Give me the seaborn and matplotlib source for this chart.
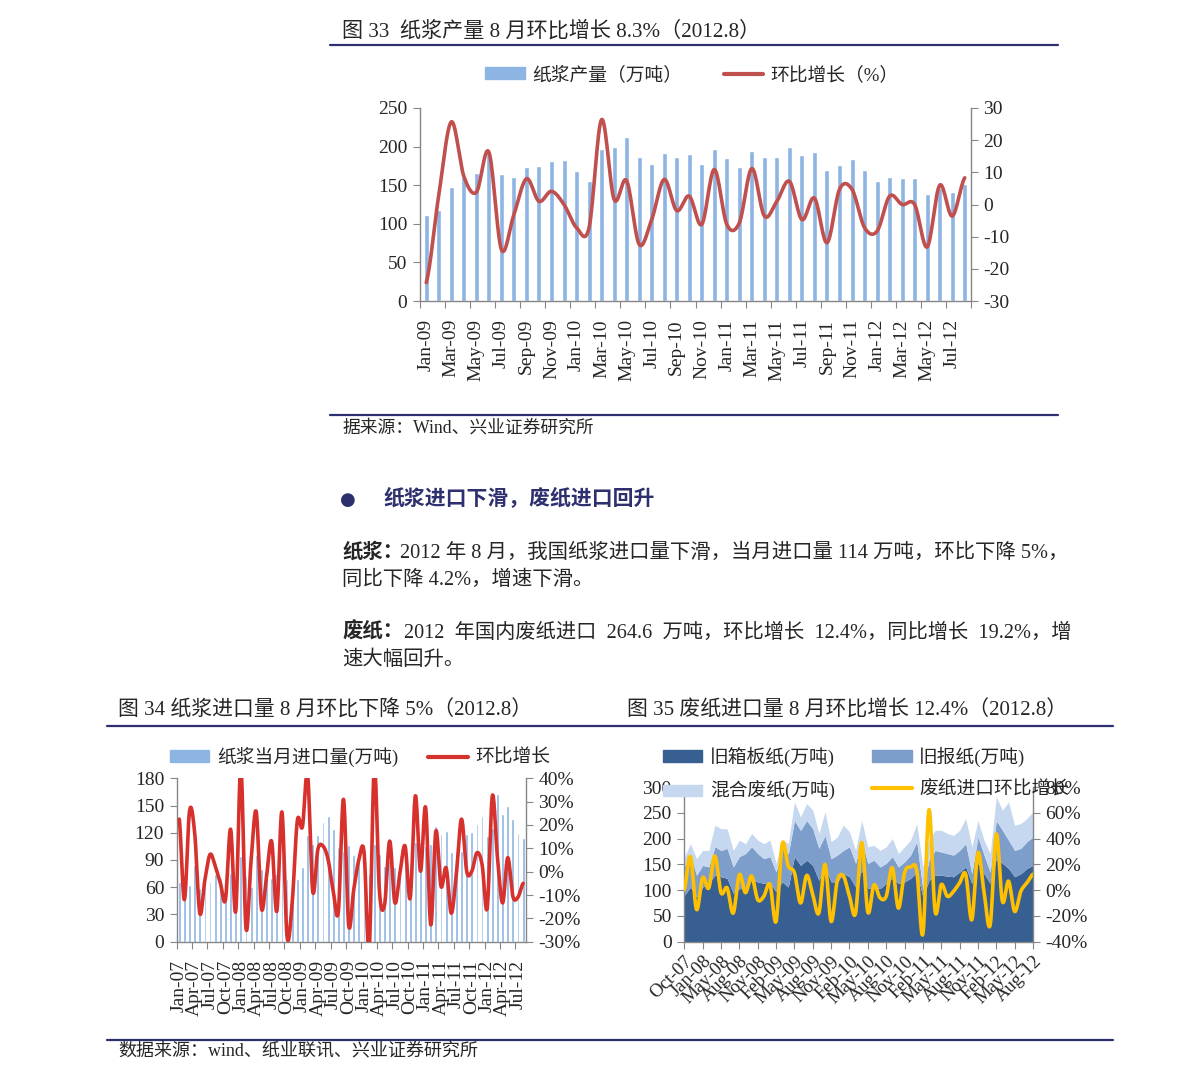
import numpy as np
import pandas as pd
import matplotlib
matplotlib.use('Agg')
import matplotlib.pyplot as plt
import seaborn as sns
from matplotlib.patches import Patch
from matplotlib.lines import Line2D

sns.set_style('white')
plt.rcParams['font.family'] = ['Liberation Serif', 'Noto Sans CJK SC']
plt.rcParams['axes.unicode_minus'] = False

W, H = 1191, 1083
NAVY = '#2d2f6e'
GRAY = '#868686'
BAR = '#8db4e2'

# ---- 图33 纸浆产量 (Jan-09 .. Aug-12)
top_months = list(pd.date_range('2009-01-01', periods=44, freq='MS').strftime('%b-%y'))
top_output = [112, 118, 148, 161, 166, 192, 165, 160, 173, 175,
              181, 182, 169, 156, 197, 200, 213, 187, 178, 192,
              186, 190, 178, 197, 185, 174, 194, 187, 187, 200,
              189, 193, 170, 176, 184, 170, 156, 160, 159, 159,
              138, 146, 141, 152]
top_mom = [-24.3, 3, 25.7, 8.8, 3.8, 16.3, -14, -3.1, 8, 1,
           4.1, 0, -7.2, -7.2, 26.4, 1.6, 7.4, -12.4, -4.7, 7.8,
           -1.9, 2.6, -6.2, 10.9, -6.2, -5.7, 11.2, -3.6, 1, 7.2,
           -4.7, 2, -11.9, 4.7, 4.7, -7.2, -8.3, 2.6, 0, 0,
           -13.2, 6, -3.6, 8.3]

# ---- 图34 纸浆进口量 (Jan-07 .. Aug-12)
pulp_months = list(pd.date_range('2007-01-01', periods=68, freq='MS').strftime('%b-%y'))
pulp_import = [66, 68, 63, 84, 59, 65, 66, 75, 70, 60,
               76, 60, 94, 72, 60, 95, 80, 88, 70, 75,
               94, 69, 56, 69, 82, 118, 108, 118, 132, 138,
               124, 104, 100, 107, 96, 99, 108, 75, 108, 97,
               83, 90, 82, 95, 83, 85, 110, 110, 105, 108,
               127, 119, 122, 99, 97, 100, 119, 121, 130, 138,
               116, 125, 163, 141, 149, 135, 120, 114]
pulp_mom = [22.5, -12, 26, 16.7, -17.8, -3.4, 7.4, 2.4, -4.8, -12,
            18.2, -17, 45, -24.2, 5, 25.6, -15.6, -2, 13, -17,
            25.6, -27.8, -13.4, 21.8, 19.3, 42, -8.4, 9.5, 11, 5.2,
            -8.4, -17, 31, -22.8, -7.6, 5.2, 8.4, -33, 45, -8.4,
            -14.2, 13.1, -13.2, -0.5, 11, -11.3, 32.5, 0.2, 27.5, -22.8,
            17.4, -6.3, 1.6, -17.8, -0.5, 22.5, 0.2, 0.2, 8.1, 3.1,
            -15.6, 32.5, 6, -13.4, 6, -10.6, -10.9, -5]

# ---- 图35 废纸进口量 (Oct-07 .. Aug-12, Feb-08 merged)
wp_dates = pd.date_range('2007-10-01', '2012-08-01', freq='MS')
wp_months = list(wp_dates[wp_dates != '2008-02-01'].strftime('%b-%y'))
occ = [90, 106, 87, 106, 113, 129, 126, 123, 94, 103,
       103, 119, 116, 113, 113, 97, 116, 106, 165, 148,
       158, 148, 119, 145, 116, 116, 132, 126, 106, 139,
       103, 106, 103, 113, 123, 113, 116, 123, 135, 87,
       119, 129, 129, 127, 126, 135, 145, 113, 152, 132,
       113, 161, 152, 142, 126, 132, 142, 148]
onp = [55, 62, 42, 42, 32, 55, 51, 58, 51, 62,
       68, 65, 55, 48, 52, 38, 64, 64, 70, 68,
       77, 71, 62, 61, 45, 52, 45, 58, 46, 58,
       49, 52, 42, 39, 42, 32, 39, 45, 59, 13,
       39, 48, 45, 44, 42, 42, 45, 19, 51, 36,
       22, 74, 64, 55, 51, 49, 52, 55]
mixed = [19, 22, 32, 29, 32, 42, 42, 38, 32, 32,
         19, 26, 26, 29, 32, 17, 18, 20, 36, 26,
         33, 36, 29, 46, 33, 35, 49, 29, 25, 38,
         32, 29, 32, 32, 35, 26, 29, 29, 35, 45,
         39, 39, 42, 39, 38, 39, 49, 52, 32, 29,
         36, 46, 39, 74, 49, 48, 45, 49]
wp_mom = [0.4, 26, -15, 9.6, 1.7, 26.5, -2, 1.7, -17.8, 12,
          -2, 11, -7.4, -4.8, 4.4, -24.3, 35.7, 18.7, 13.5, -10,
          11.4, -3.5, -17.8, 20, -24.3, 7, 11, -4.8, -17.8, 37,
          -17, 4, -6, -4.8, 17.4, -14, 13.5, 17.9, 14.8, -34,
          62.5, -16.5, 4.3, -4.8, -1, 5.6, 12.2, -23, 29, -1.7,
          -27, 43.5, -8.7, 7, -16.5, -1, 5.6, 12.4]


def smooth(y, k=16):
    # Catmull-Rom curve through the points, like Excel's smoothed line
    y = np.asarray(y, float)
    n = len(y)
    p = np.concatenate([[y[0]], y, [y[-1]]])
    t = np.linspace(0, 1, k, endpoint=False)
    xs, ys = [], []
    for i in range(n - 1):
        p0, p1, p2, p3 = p[i], p[i + 1], p[i + 2], p[i + 3]
        seg = 0.5 * (2 * p1 + (-p0 + p2) * t + (2 * p0 - 5 * p1 + 4 * p2 - p3) * t ** 2
                     + (-p0 + 3 * p1 - 3 * p2 + p3) * t ** 3)
        xs.append(i + t)
        ys.append(seg)
    xs.append([n - 1])
    ys.append([y[-1]])
    return np.concatenate(xs), np.concatenate(ys)


def rect(l, t, r, b):
    return [l / W, 1 - b / H, (r - l) / W, (b - t) / H]


def style(ax, ax2, size=14):
    for a in (ax, ax2):
        for s in a.spines.values():
            s.set_color(GRAY)
            s.set_linewidth(1)
        a.spines['top'].set_visible(False)
        a.set_xlabel('')
        a.set_ylabel('')
    ax.spines['right'].set_visible(False)
    ax2.spines['left'].set_visible(False)
    ax2.spines['bottom'].set_visible(False)
    ax.tick_params(axis='y', left=True, length=5, color=GRAY, labelsize=size, pad=4)
    ax2.tick_params(axis='y', right=True, length=5, color=GRAY, labelsize=size, pad=4)


fig = plt.figure(figsize=(W / 100, H / 100), dpi=100)

# page layer: titles, rules and body text
page = fig.add_axes([0, 0, 1, 1])
page.set_xlim(0, W)
page.set_ylim(H, 0)
page.axis('off')


def txt(x, y, s, size=14, **kw):
    page.text(x, y, s, fontsize=size, va='center', ha='left', **kw)


def rule(x0, x1, y):
    page.plot([x0, x1], [y, y], color=NAVY, lw=1.6)


txt(342, 31, '图 33  纸浆产量 8 月环比增长 8.3%（2012.8）', 15.2)
rule(330, 1058, 45)
rule(330, 1058, 415)
txt(342, 428, '据来源：Wind、兴业证券研究所', 12.8)
txt(340, 500, '●', 13, color=NAVY, family='DejaVu Sans')
txt(383, 500, '纸浆进口下滑，废纸进口回升', 15, color=NAVY, fontweight='bold')
txt(342, 553, '纸浆：', 14.7, fontweight='bold')
txt(400, 553, '2012 年 8 月，我国纸浆进口量下滑，当月进口量 114 万吨，环比下降 5%，', 14.7)
txt(342, 580, '同比下降 4.2%，增速下滑。', 14.7)
txt(342, 633, '废纸：', 14.7, fontweight='bold')
txt(404, 633, '2012  年国内废纸进口  264.6  万吨，环比增长  12.4%，同比增长  19.2%，增', 14.6)
txt(342, 660, '速大幅回升。', 14.7)
txt(118, 711, '图 34 纸浆进口量 8 月环比下降 5%（2012.8）', 15)
txt(627, 711, '图 35 废纸进口量 8 月环比增长 12.4%（2012.8）', 15)
rule(107, 1113, 726)
rule(107, 1113, 1040)
txt(118, 1052, '数据来源：wind、纸业联讯、兴业证券研究所', 13)

# ---- chart 33
ax = fig.add_axes(rect(420, 108, 971, 301))
sns.barplot(x=top_months, y=top_output, color=BAR, width=0.4, saturation=1, ax=ax)
ax.set_ylim(0, 250)
ax.set_yticks(range(0, 251, 50))
ax2 = ax.twinx()
xs, ys = smooth(top_mom)
sns.lineplot(x=xs, y=ys, ax=ax2, color='#c0504d', lw=2.6, sort=False, estimator=None)
ax2.set_ylim(-30, 30)
ax2.set_yticks(range(-30, 31, 10))
ax.set_xlim(-0.5, 43.5)
style(ax, ax2)
n = len(top_months)
ax.set_xticks(np.arange(-0.5, n, 2), labels=[''] * len(np.arange(-0.5, n, 2)))
ax.set_xticks(np.arange(0, n, 2), labels=top_months[::2], minor=True, rotation=90)
ax.tick_params(axis='x', which='major', bottom=True, length=5, color=GRAY)
ax.tick_params(axis='x', which='minor', bottom=True, length=0, pad=13, labelsize=14)
fig.legend(handles=[Patch(color=BAR), Line2D([], [], color='#c0504d', lw=3)],
           labels=['纸浆产量（万吨）', '环比增长（%）'], loc='center',
           bbox_to_anchor=(692 / W, 1 - 75 / H), ncol=2, frameon=False, fontsize=13.5,
           handlelength=2.1, handleheight=0.6, handletextpad=0.4, columnspacing=2.2)

# ---- chart 34
RED2 = '#d7312e'
ax = fig.add_axes(rect(176.7, 778.3, 525.7, 941.7))
sns.barplot(x=pulp_months, y=pulp_import, color=BAR, width=0.55, saturation=1, ax=ax)
ax.set_ylim(0, 180)
ax.set_yticks(range(0, 181, 30))
ax2 = ax.twinx()
xs, ys = smooth(pulp_mom)
sns.lineplot(x=xs, y=ys, ax=ax2, color=RED2, lw=2.6, sort=False, estimator=None)
ax2.set_ylim(-30, 40)
ax2.set_yticks(range(-30, 41, 10), labels=[f'{v}%' for v in range(-30, 41, 10)])
ax.set_xlim(-0.5, len(pulp_months) - 0.5)
style(ax, ax2)
n = len(pulp_months)
maj = np.arange(-0.5, n, 3)
ax.set_xticks(maj, labels=[''] * len(maj))
ax.set_xticks(np.arange(0, n, 3), labels=pulp_months[::3], minor=True, rotation=90)
ax.tick_params(axis='x', which='major', bottom=True, length=5, color=GRAY)
ax.tick_params(axis='x', which='minor', bottom=True, length=0, pad=13, labelsize=14)
fig.legend(handles=[Patch(color=BAR), Line2D([], [], color=RED2, lw=3)],
           labels=['纸浆当月进口量(万吨)', '环比增长'], loc='center',
           bbox_to_anchor=(360 / W, 1 - 757 / H), ncol=2, frameon=False, fontsize=13.5,
           handlelength=2.1, handleheight=0.6, handletextpad=0.4, columnspacing=1.6)

# ---- chart 35
C_OCC, C_ONP, C_MIX, C_YEL = '#375f92', '#7d9dcb', '#c5d8f0', '#ffc000'
ax = fig.add_axes(rect(684.3, 787, 1033, 941.7))
x = np.arange(len(wp_months))
ax.stackplot(x, occ, onp, mixed, colors=[C_OCC, C_ONP, C_MIX], lw=0)
ax.set_ylim(0, 300)
ax.set_yticks(range(0, 301, 50))
ax2 = ax.twinx()
xs, ys = smooth(wp_mom)
sns.lineplot(x=xs, y=ys, ax=ax2, color=C_YEL, lw=2.6, sort=False, estimator=None)
ax2.set_ylim(-40, 80)
ax2.set_yticks(range(-40, 81, 20), labels=[f'{v}%' for v in range(-40, 81, 20)])
ax.set_xlim(0, len(wp_months) - 1)
style(ax, ax2)
ax.set_xticks(x[::3], labels=wp_months[::3], rotation=45, ha='right', va='top',
              rotation_mode='anchor')
ax.tick_params(axis='x', bottom=True, length=5, color=GRAY, labelsize=13.5, pad=3)
fig.legend(handles=[Patch(color=C_OCC), Patch(color=C_MIX), Patch(color=C_ONP),
                    Line2D([], [], color=C_YEL, lw=3)],
           labels=['旧箱板纸(万吨)', '混合废纸(万吨)', '旧报纸(万吨)', '废纸进口环比增长'],
           loc='center', bbox_to_anchor=(866 / W, 1 - 774 / H), ncol=2, frameon=False,
           fontsize=13.5, handlelength=2.1, handleheight=0.6, handletextpad=0.4,
           columnspacing=2.0, labelspacing=0.75)

fig.savefig('out.png', dpi=100)
plt.close()
